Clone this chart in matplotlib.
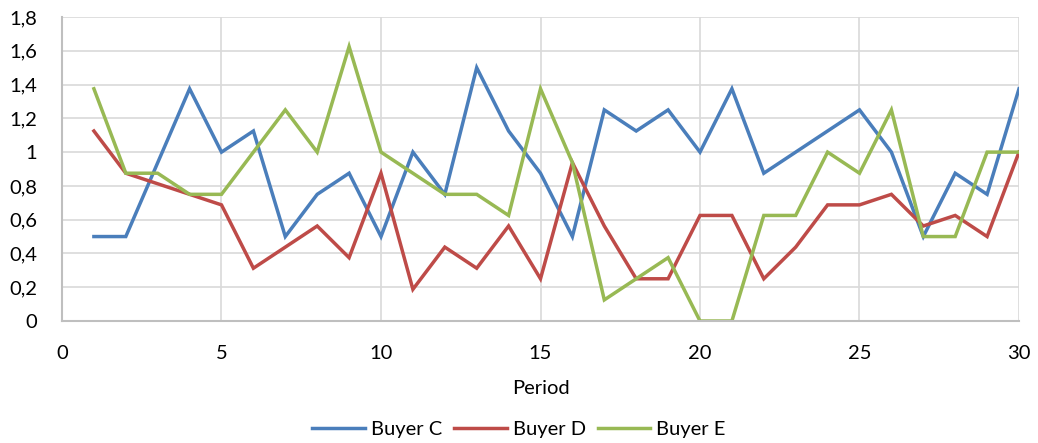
import matplotlib
matplotlib.use("Agg")
import matplotlib.pyplot as plt
from matplotlib.ticker import FuncFormatter

periods = list(range(1, 31))
buyer_c = [0.5, 0.5, 0.9375, 1.375, 1.0, 1.125, 0.5, 0.75, 0.875, 0.5,
           1.0, 0.75, 1.5, 1.125, 0.875, 0.5, 1.25, 1.125, 1.25, 1.0,
           1.375, 0.875, 1.0, 1.125, 1.25, 1.0, 0.5, 0.875, 0.75, 1.375]
buyer_d = [1.125, 0.875, 0.8125, 0.75, 0.6875, 0.3125, 0.4375, 0.5625, 0.375, 0.875,
           0.1875, 0.4375, 0.3125, 0.5625, 0.25, 0.9375, 0.5625, 0.25, 0.25, 0.625,
           0.625, 0.25, 0.4375, 0.6875, 0.6875, 0.75, 0.5625, 0.625, 0.5, 1.0]
buyer_e = [1.375, 0.875, 0.875, 0.75, 0.75, 1.0, 1.25, 1.0, 1.625, 1.0,
           0.875, 0.75, 0.75, 0.625, 1.375, 0.9375, 0.125, 0.25, 0.375, 0.0,
           0.0, 0.625, 0.625, 1.0, 0.875, 1.25, 0.5, 0.5, 1.0, 1.0]

series = [("Buyer C", buyer_c, "#4A7EBB"),
          ("Buyer D", buyer_d, "#BE4B48"),
          ("Buyer E", buyer_e, "#98B954")]

plt.rcParams["font.family"] = ["Lato", "DejaVu Sans"]


def excel_fmt(v, pos):
    # Excel "General" style with decimal comma: 0, 0,2, ..., 1, 1,2
    return f"{round(v, 1):g}".replace(".", ",")


fig = plt.figure(figsize=(10.38, 4.43), dpi=100)
ax = fig.add_axes([62 / 1038, 1 - 321 / 443, (1019 - 62) / 1038, (321 - 17) / 443])

for name, vals, col in series:
    ax.plot(periods, vals, color=col, lw=2.5, label=name, solid_joinstyle="miter")

ax.set_xlim(0, 30)
ax.set_ylim(0, 1.8)
ax.set_xticks(range(0, 31, 5))
ax.set_yticks([i * 0.2 for i in range(10)])
ax.yaxis.set_major_formatter(FuncFormatter(excel_fmt))
ax.grid(True, color="#D9D9D9", lw=1.2)
ax.set_axisbelow(True)
for s in ["top", "right"]:
    ax.spines[s].set_visible(False)
for s in ["left", "bottom"]:
    ax.spines[s].set_color("#BFBFBF")
    ax.spines[s].set_linewidth(1.5)
ax.tick_params(length=0, labelsize=14.5, colors="black")
ax.tick_params(axis="x", pad=17)
ax.tick_params(axis="y", pad=18)
ax.set_xlabel("Period", fontsize=14.5, labelpad=13)

fig.legend(loc="lower center", ncol=3, frameon=False, fontsize=14.5,
           bbox_to_anchor=(0.5, -0.03), handlelength=2.6, columnspacing=0.6, handletextpad=0.3)

fig.savefig("out.png", dpi=100)
